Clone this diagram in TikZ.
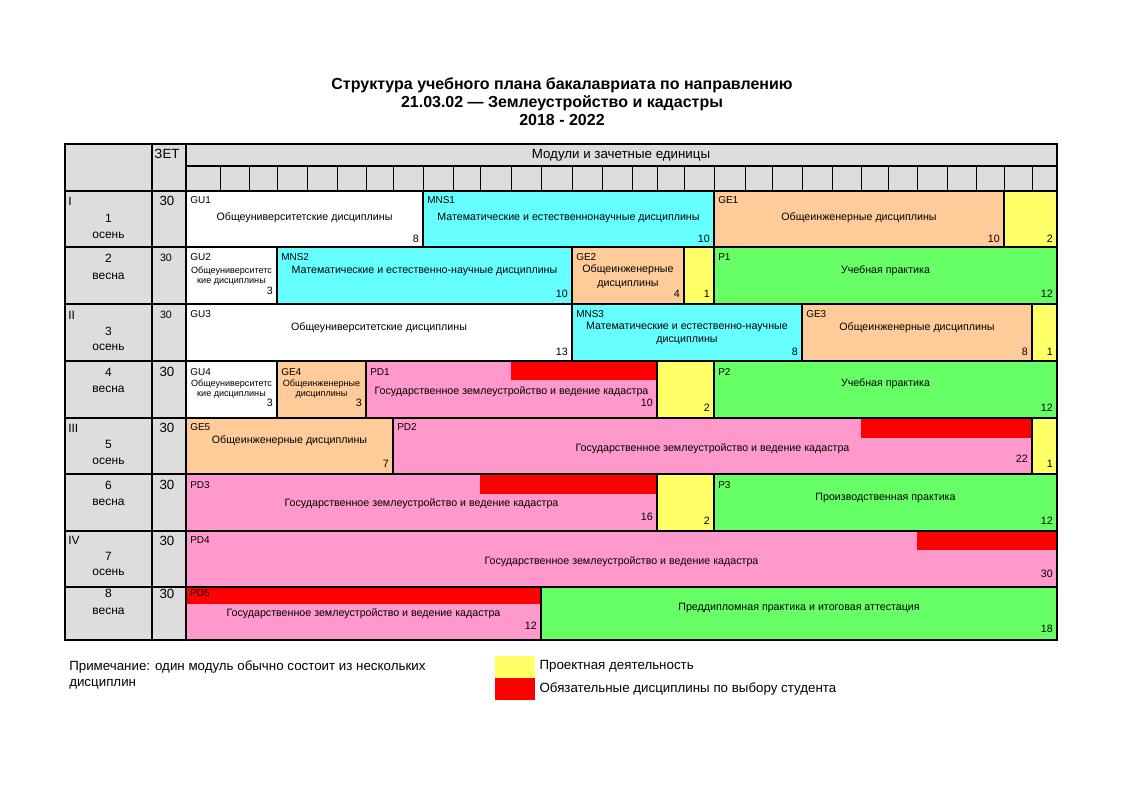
\documentclass[tikz,border=0pt]{standalone}
\usepackage{xcolor}
\usepackage{fontspec}
\setmainfont{Liberation Sans}
\usepackage{tikz}
\usetikzlibrary{positioning}

\definecolor{hdrgray}{HTML}{DDDDDD}
\definecolor{mnscyan}{HTML}{66FFFF}
\definecolor{gepeach}{HTML}{FFCC99}
\definecolor{projyellow}{HTML}{FFFF66}
\definecolor{pracgreen}{HTML}{66FF66}
\definecolor{pdpink}{HTML}{FF99CC}

\begin{document}
\begin{tikzpicture}[x=0.75pt, y=-0.75pt,
  cell/.style={draw=black, line width=0.9pt},
  code/.style={anchor=mid west, inner sep=0pt, font=\fontsize{7.5}{9}\selectfont},
  txt/.style={anchor=mid, inner sep=0pt, align=center, font=\fontsize{8}{10}\selectfont},
  small/.style={inner sep=0pt, align=center, font=\fontsize{6.8}{8}\selectfont},
  num/.style={anchor=mid east, inner sep=0pt, font=\fontsize{8}{10}\selectfont},
  sem/.style={anchor=mid, inner sep=0pt, font=\fontsize{9}{11}\selectfont},
  rom/.style={anchor=mid west, inner sep=0pt, font=\fontsize{9}{11}\selectfont},
  zet/.style={anchor=mid, inner sep=0pt, font=\fontsize{10}{12}\selectfont},
  zetsm/.style={anchor=mid, inner sep=0pt, font=\fontsize{8}{10}\selectfont},
  legbox/.style={rectangle, minimum width=30pt, minimum height=16.5pt, inner sep=0pt},
  legtxt/.style={inner sep=0pt, font=\fontsize{10}{12}\selectfont},
]
\useasboundingbox[fill=white] (0,0) rectangle (1122,793);
\def\colx{186,220,249,277,307,337,366,393,423,453,480,511,541,572,602,632,657,684,714,745,772,802,832,861,888,917,947,976,1004,1032,1057}

% Title
\node[align=center, inner sep=0pt, font=\bfseries\fontsize{12}{13.5}\selectfont] (title) at (562,102)
  {Структура учебного плана бакалавриата по направлению\\21.03.02 — Землеустройство и кадастры\\2018 - 2022};

% Header and semester columns
\fill[hdrgray] (65,144) rectangle (1057,191);
\fill[hdrgray] (65,191) rectangle (186,640);
\draw[cell] (186,166) -- (1057,166);
\foreach \x in \colx {\draw[line width=0.6pt] (\x,166) -- (\x,191);}
\draw[cell] (152,144) -- (152,640);
\draw[cell] (186,144) -- (186,640);
\foreach \y in {191,247,304,361,418,474,531,587} {\draw[cell] (65,\y) -- (186,\y);}
\node[zet] (zethdr) at (167,155) {ЗЕТ};
\node[zet] (modhdr) at (621,155) {Модули и зачетные единицы};

% Semester labels
\node[rom] (y1) at (68,202) {I};
\node[sem] (s1) at (108.5,219) {1};
\node[sem] (s1b) at (108.5,235) {осень};
\node[sem] (s2) at (108.5,259) {2};
\node[sem] (s2b) at (108.5,276) {весна};
\node[rom] (y2) at (68,316) {II};
\node[sem] (s3) at (108.5,332) {3};
\node[sem] (s3b) at (108.5,347) {осень};
\node[sem] (s4) at (108.5,373) {4};
\node[sem] (s4b) at (108.5,389) {весна};
\node[rom] (y3) at (68,429) {III};
\node[sem] (s5) at (108.5,445) {5};
\node[sem] (s5b) at (108.5,461) {осень};
\node[sem] (s6) at (108.5,486) {6};
\node[sem] (s6b) at (108.5,502) {весна};
\node[rom] (y4) at (68,541) {IV};
\node[sem] (s7) at (108.5,557) {7};
\node[sem] (s7b) at (108.5,572) {осень};
\node[sem] (s8) at (108.5,594) {8};
\node[sem] (s8b) at (108.5,611) {весна};

% Credits per semester
\node[zet] (z1) at (167,202) {30};
\node[zetsm] (z2) at (166,258) {30};
\node[zetsm] (z3) at (166,315) {30};
\node[zet] (z4) at (167,373) {30};
\node[zet] (z5) at (167,429) {30};
\node[zet] (z6) at (167,486) {30};
\node[zet] (z7) at (167,542) {30};
\node[zet] (z8) at (167,595) {30};

% Semester 1
\draw[cell, fill=white] (186,191) rectangle (423,247);
\node[code] (gu1) at (190,200) {GU1};
\node[txt] (gu1t) at (304.5,217) {Общеуниверситетские дисциплины};
\node[num] (gu1n) at (419,239) {8};
\draw[cell, fill=mnscyan] (423,191) rectangle (714,247);
\node[code] (mns1) at (427,200) {MNS1};
\node[txt] (mns1t) at (568.5,217) {Математические и естественнонаучные дисциплины};
\node[num] (mns1n) at (710,239) {10};
\draw[cell, fill=gepeach] (714,191) rectangle (1004,247);
\node[code] (ge1) at (718,200) {GE1};
\node[txt] (ge1t) at (859,217) {Общеинженерные дисциплины};
\node[num] (ge1n) at (1000,239) {10};
\draw[cell, fill=projyellow] (1004,191) rectangle (1057,247);
\node[num] (pr1n) at (1053,239) {2};

% Semester 2
\draw[cell, fill=white] (186,247) rectangle (277,304);
\node[code] (gu2) at (190,257) {GU2};
\node[small] (gu2t) at (231.5,276) {Общеуниверситетс\\кие дисциплины};
\node[num] (gu2n) at (273,291) {3};
\draw[cell, fill=mnscyan] (277,247) rectangle (572,304);
\node[code] (mns2) at (281,257) {MNS2};
\node[txt] (mns2t) at (424.5,270) {Математические и естественно-научные дисциплины};
\node[num] (mns2n) at (568,294) {10};
\draw[cell, fill=gepeach] (572,247) rectangle (684,304);
\node[code] (ge2) at (576,257) {GE2};
\node[txt, anchor=center] (ge2t) at (628,276.5) {Общеинженерные\\дисциплины};
\node[num] (ge2n) at (680,294) {4};
\draw[cell, fill=projyellow] (684,247) rectangle (714,304);
\node[num] (pr2n) at (710,294) {1};
\draw[cell, fill=pracgreen] (714,247) rectangle (1057,304);
\node[code] (p1) at (718,257) {P1};
\node[txt] (p1t) at (885.5,270) {Учебная практика};
\node[num] (p1n) at (1053,294) {12};

% Semester 3
\draw[cell, fill=white] (186,304) rectangle (572,361);
\node[code] (gu3) at (190,314) {GU3};
\node[txt] (gu3t) at (379,327) {Общеуниверситетские дисциплины};
\node[num] (gu3n) at (568,352) {13};
\draw[cell, fill=mnscyan] (572,304) rectangle (802,361);
\node[code] (mns3) at (576,314) {MNS3};
\node[txt, anchor=center] (mns3t) at (687,333.5) {Математические и естественно-научные\\дисциплины};
\node[num] (mns3n) at (798,352) {8};
\draw[cell, fill=gepeach] (802,304) rectangle (1032,361);
\node[code] (ge3) at (806,314) {GE3};
\node[txt] (ge3t) at (917,327) {Общеинженерные дисциплины};
\node[num] (ge3n) at (1028,352) {8};
\draw[cell, fill=projyellow] (1032,304) rectangle (1057,361);
\node[num] (pr3n) at (1053,352) {1};

% Semester 4
\draw[cell, fill=white] (186,361) rectangle (277,418);
\node[code] (gu4) at (190,372) {GU4};
\node[small] (gu4t) at (231.5,389) {Общеуниверситетс\\кие дисциплины};
\node[num] (gu4n) at (273,403) {3};
\draw[cell, fill=gepeach] (277,361) rectangle (366,418);
\node[code] (ge4) at (281,372) {GE4};
\node[small] (ge4t) at (321.5,389) {Общеинженерные\\дисциплины};
\node[num] (ge4n) at (362,403) {3};
\fill[pdpink] (366,361) rectangle (657,418);
\fill[red] (511,361) rectangle (657,380);
\draw[cell] (366,361) rectangle (657,418);
\node[code] (pd1) at (370,372) {PD1};
\node[txt] (pd1t) at (511.5,391) {Государственное землеустройство и ведение кадастра};
\node[num] (pd1n) at (653,403) {10};
\draw[cell, fill=projyellow] (657,361) rectangle (714,418);
\node[num] (pr4n) at (710,408) {2};
\draw[cell, fill=pracgreen] (714,361) rectangle (1057,418);
\node[code] (p2) at (718,372) {P2};
\node[txt] (p2t) at (885.5,383) {Учебная практика};
\node[num] (p2n) at (1053,408) {12};

% Semester 5
\draw[cell, fill=gepeach] (186,418) rectangle (393,474);
\node[code] (ge5) at (190,427) {GE5};
\node[txt] (ge5t) at (289.5,440) {Общеинженерные дисциплины};
\node[num] (ge5n) at (389,464) {7};
\fill[pdpink] (393,418) rectangle (1032,474);
\fill[red] (861,418) rectangle (1032,438);
\draw[cell] (393,418) rectangle (1032,474);
\node[code] (pd2) at (397,427) {PD2};
\node[txt] (pd2t) at (712.5,448) {Государственное землеустройство и ведение кадастра};
\node[num] (pd2n) at (1028,459) {22};
\draw[cell, fill=projyellow] (1032,418) rectangle (1057,474);
\node[num] (pr5n) at (1053,464) {1};

% Semester 6
\fill[pdpink] (186,474) rectangle (657,531);
\fill[red] (480,474) rectangle (657,494);
\draw[cell] (186,474) rectangle (657,531);
\node[code] (pd3) at (190,485) {PD3};
\node[txt] (pd3t) at (421.5,503) {Государственное землеустройство и ведение кадастра};
\node[num] (pd3n) at (653,517) {16};
\draw[cell, fill=projyellow] (657,474) rectangle (714,531);
\node[num] (pr6n) at (710,521) {2};
\draw[cell, fill=pracgreen] (714,474) rectangle (1057,531);
\node[code] (p3) at (718,485) {P3};
\node[txt] (p3t) at (885.5,497) {Производственная практика};
\node[num] (p3n) at (1053,521) {12};

% Semester 7
\fill[pdpink] (186,531) rectangle (1057,587);
\fill[red] (917,531) rectangle (1057,550);
\draw[cell] (186,531) rectangle (1057,587);
\node[code] (pd4) at (190,540) {PD4};
\node[txt] (pd4t) at (621.5,561) {Государственное землеустройство и ведение кадастра};
\node[num] (pd4n) at (1053,574) {30};

% Semester 8
\fill[pdpink] (186,587) rectangle (541,640);
\fill[red] (186,587) rectangle (541,604);
\draw[cell] (186,587) rectangle (541,640);
\node[code] (pd5) at (190,593) {PD5};
\node[txt] (pd5t) at (363.5,613) {Государственное землеустройство и ведение кадастра};
\node[num] (pd5n) at (537,626) {12};
\draw[cell, fill=pracgreen] (541,587) rectangle (1057,640);
\node[txt] (gia) at (799,607) {Преддипломная практика и итоговая аттестация};
\node[num] (gian) at (1053,629) {18};

% Outer frame
\draw[line width=1.2pt] (65,144) rectangle (1057,640);

% Note and legend
\node[legtxt, anchor=north west, align=left] (note) at (69,660)
  {Примечание: один модуль обычно состоит из нескольких\\дисциплин};
\node[legbox, fill=projyellow] (legy) at (515,666.5) {};
\node[legbox, fill=red, below=0pt of legy] (legr) {};
\node[legtxt, right=3pt of legy] (legyt) {Проектная деятельность};
\node[legtxt, right=3pt of legr] (legrt) {Обязательные дисциплины по выбору студента};
\end{tikzpicture}
\end{document}
